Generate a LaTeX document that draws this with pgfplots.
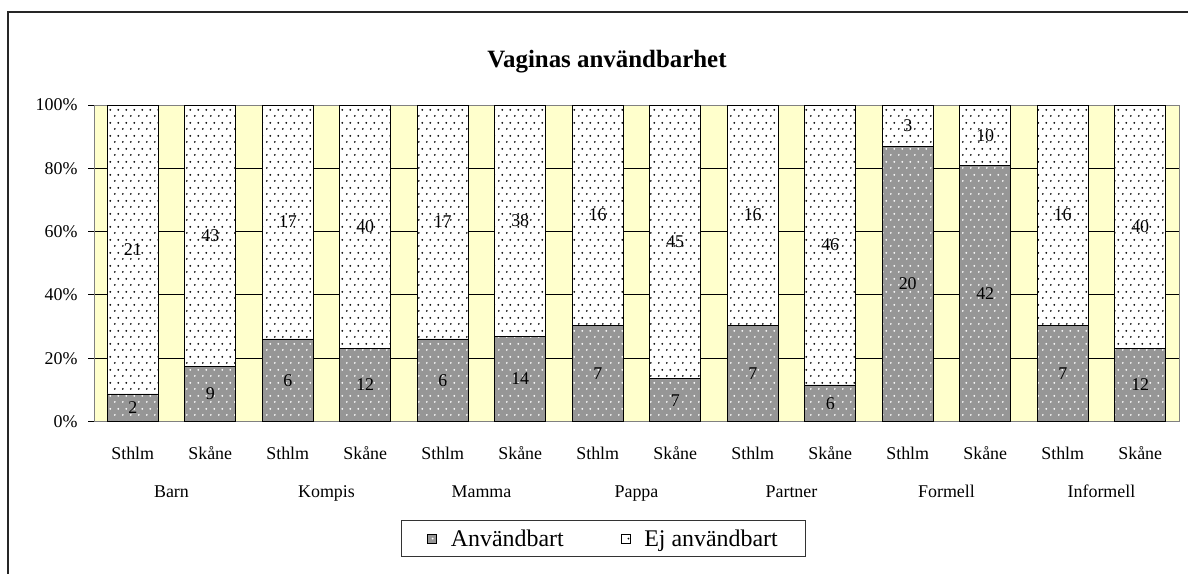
\documentclass[border=0pt]{standalone}
\usepackage{pgfplots}
\pgfplotsset{compat=1.18}
\usepackage{pgfplotstable}
\usepackage{fontspec}
\setmainfont{Liberation Serif}
\usetikzlibrary{patterns.meta}
\definecolor{plotbg}{HTML}{FFFFCC}
\definecolor{bargray}{HTML}{969696}
\tikzdeclarepattern{
  name=xldots,
  type=uncolored,
  bounding box={(0bp,0bp) and (7.5bp,13bp)},
  tile size={(7.5bp,13bp)},
  code={
    \fill (1.9bp,3.25bp) circle (1.05bp);
    \fill (5.65bp,9.75bp) circle (1.05bp);
  }
}
\pgfplotsset{
  sqlegend/.style={legend image code/.code={\draw[##1, line width=0.6bp] (0bp,-4.5bp) rectangle (9bp,4.5bp);}}
}
\pgfplotstableread{
x pa na pb nb
0  8.70  2 91.30 21
1 17.31  9 82.69 43
2 26.09  6 73.91 17
3 23.08 12 76.92 40
4 26.09  6 73.91 17
5 26.92 14 73.08 38
6 30.43  7 69.57 16
7 13.46  7 86.54 45
8 30.43  7 69.57 16
9 11.54  6 88.46 46
10 86.96 20 13.04 3
11 80.77 42 19.23 10
12 30.43  7 69.57 16
13 23.08 12 76.92 40
}\datatable
\begin{document}
\begin{tikzpicture}
\useasboundingbox (0,0) rectangle (1188bp,574bp);
\draw[line width=1.3bp, black!85] (8bp,0bp) -- (8bp,562bp) -- (1188bp,562bp);
\node[font=\bfseries\fontsize{25}{29}\selectfont, anchor=base] at (607bp,506bp) {Vaginas användbarhet};
\begin{axis}[
  at={(94bp,152.5bp)}, anchor=south west,
  width=1085bp, height=316.5bp, scale only axis,
  ybar stacked, bar width=0.66,
  xmin=-0.5, xmax=13.5, ymin=0, ymax=100,
  clip=false,
  axis background/.style={fill=plotbg},
  axis line style={draw=gray, line width=0.8bp},
  ymajorgrids, grid style={black, line width=0.8bp},
  ytick={0,20,40,60,80,100},
  yticklabels={0\%,20\%,40\%,60\%,80\%,100\%},
  xtick={0,...,13},
  xticklabels={Sthlm,Skåne,Sthlm,Skåne,Sthlm,Skåne,Sthlm,Skåne,Sthlm,Skåne,Sthlm,Skåne,Sthlm,Skåne},
  tick align=outside, major tick length=6bp,
  xtick pos=bottom, ytick pos=left,
  x tick style={draw=none},
  y tick style={black, line width=0.8bp},
  tick label style={font=\fontsize{18}{21}\selectfont},
  yticklabel style={xshift=-7bp},
  xticklabel style={anchor=base, yshift=-32bp},
  point meta=explicit symbolic,
  nodes near coords={\pgfplotspointmeta},
  every node near coord/.append style={anchor=center, font=\fontsize{18}{21}\selectfont, text=black},
  legend style={at={(axis description cs:0.4696,-0.3697)}, anchor=center,
    legend columns=2, draw=black!80, line width=0.8bp,
    font=\fontsize{24}{27}\selectfont,
    inner xsep=26bp, inner ysep=7bp,
    /tikz/every odd column/.append style={column sep=12bp},
    /tikz/every even column/.append style={column sep=55bp}},
]
\addplot[fill=bargray, draw=black, line width=0.8bp,
  postaction={pattern=xldots, pattern color=white},
  sqlegend]
  table[x=x, y=pa, meta=na] {\datatable};
\addlegendentry{Användbart}
\addplot[fill=white, draw=black, line width=0.8bp,
  postaction={pattern=xldots, pattern color=black},
  sqlegend]
  table[x=x, y=pb, meta=nb] {\datatable};
\addlegendentry{Ej användbart}
\node[font=\fontsize{18}{21}\selectfont, anchor=base, yshift=-75.5bp] at (axis cs:0.5,0) {Barn};
\node[font=\fontsize{18}{21}\selectfont, anchor=base, yshift=-75.5bp] at (axis cs:2.5,0) {Kompis};
\node[font=\fontsize{18}{21}\selectfont, anchor=base, yshift=-75.5bp] at (axis cs:4.5,0) {Mamma};
\node[font=\fontsize{18}{21}\selectfont, anchor=base, yshift=-75.5bp] at (axis cs:6.5,0) {Pappa};
\node[font=\fontsize{18}{21}\selectfont, anchor=base, yshift=-75.5bp] at (axis cs:8.5,0) {Partner};
\node[font=\fontsize{18}{21}\selectfont, anchor=base, yshift=-75.5bp] at (axis cs:10.5,0) {Formell};
\node[font=\fontsize{18}{21}\selectfont, anchor=base, yshift=-75.5bp] at (axis cs:12.5,0) {Informell};
\end{axis}
\end{tikzpicture}
\end{document}
